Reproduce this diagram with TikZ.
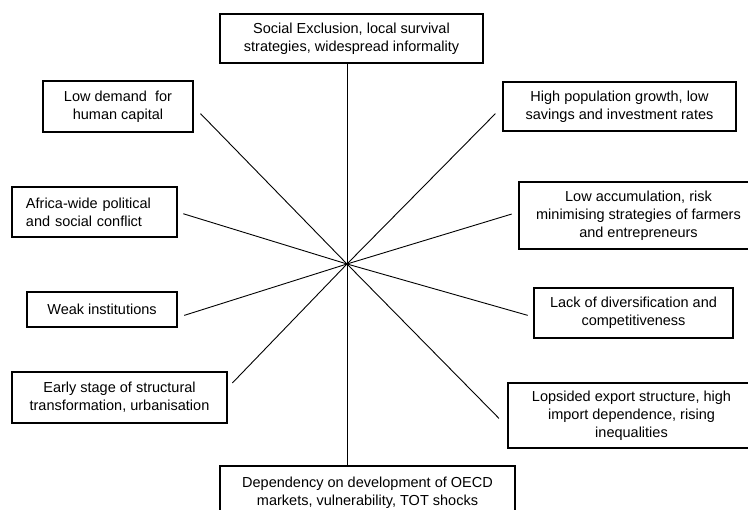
\documentclass[tikz,border=0pt]{standalone}
\usepackage{fontspec}
\setmainfont{Liberation Sans}
\usepackage{tikz}
\tikzset{
   factor/.style={draw=black, line width=1.1pt, inner sep=0pt, align=center,
                  font=\fontsize{14.5}{18}\selectfont},
   spoke/.style={draw=black, line width=0.9pt}
}

\begin{document}
\begin{tikzpicture}[x=1pt,y=1pt]
\path[use as bounding box,clip] (0,0) rectangle (748,510);
\coordinate (hub) at (347,246);
\node[factor, minimum width=263, minimum height=49] (excl) at (351.5,471.5) {Social Exclusion, local survival\\strategies, widespread informality};
\node[factor, minimum width=150, minimum height=51] (human) at (118,403.5) {Low demand\ \ for\\human capital};
\node[factor, minimum width=165, minimum height=50, text width=137, align=left] (conflict) at (94.5,298) {Africa-wide political\\and social conflict};
\node[factor, minimum width=150, minimum height=35] (inst) at (102,200.5) {Weak institutions};
\node[factor, minimum width=215, minimum height=51] (early) at (119.5,112.5) {Early stage of structural\\transformation, urbanisation};
\node[factor, minimum width=233, minimum height=49] (growth) at (619.5,403.5) {High population growth, low\\savings and investment rates};
\node[factor, minimum width=239, minimum height=67] (accum) at (638.5,294.5) {Low accumulation, risk\\minimising strategies of farmers\\and entrepreneurs};
\node[factor, minimum width=199, minimum height=50] (divers) at (633.5,197) {Lack of diversification and\\competitiveness};
\node[factor, minimum width=247, minimum height=65] (export) at (631.5,94.5) {Lopsided export structure, high\\import dependence, rising\\inequalities};
\node[factor, minimum width=295, minimum height=54] (oecd) at (367.5,17) {Dependency on development of OECD\\markets, vulnerability, TOT shocks};
% spokes from the centre
\draw[spoke] (hub) -- (excl.south -| hub);
\draw[spoke] (hub) -- (oecd.north -| hub);
\draw[spoke, shorten >=10pt] (hub) -- (human.east);
\draw[spoke, shorten >=6pt] (hub) -- (conflict.east);
\draw[spoke, shorten >=7pt] (hub) -- ([yshift=-8pt]inst.east);
\draw[spoke, shorten >=7pt] (hub) -- ([yshift=9.5pt]early.east);
\draw[spoke, shorten >=10pt] (hub) -- (growth.west);
\draw[spoke, shorten >=7pt] (hub) -- ([yshift=3.5pt]accum.west);
\draw[spoke, shorten >=6pt] (hub) -- ([yshift=-4pt]divers.west);
\draw[spoke, shorten >=12pt] (hub) -- ([yshift=-11.5pt]export.west);
\end{tikzpicture}
\end{document}
